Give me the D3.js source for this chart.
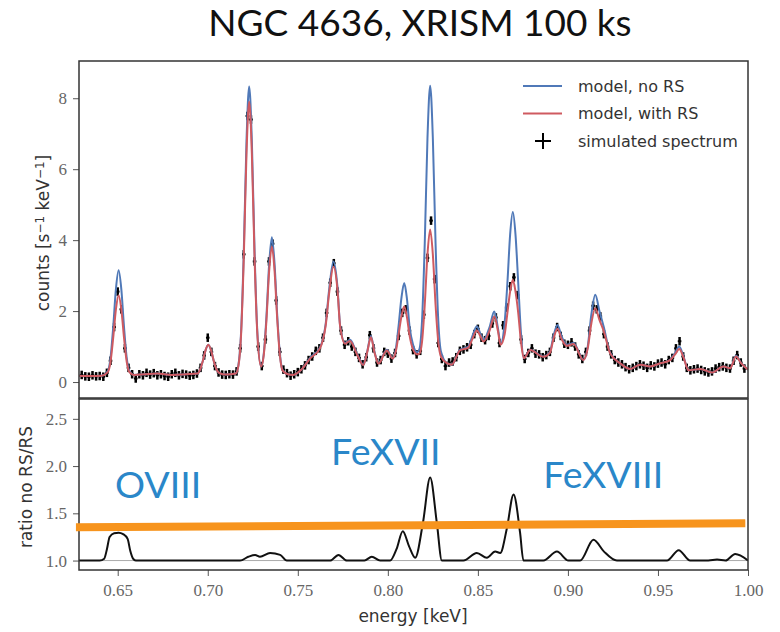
<!DOCTYPE html>
<html>
<head>
<meta charset="utf-8">
<script src="https://cdn.jsdelivr.net/npm/d3@7"></script>
<style>
  body { margin: 0; background: #fff; }
</style>
</head>
<body>
<div id="chart"></div>
<script>
// model spectra
const modelEnergy = [0.6285,0.635,0.641,0.6445,0.646,0.6475,0.649,0.6505,0.652,0.6535,0.655,0.6565,0.659,0.665,0.672,0.680,0.688,
  0.6943,0.6958,0.6973,0.6988,0.7003,0.7018,0.7033,0.7048,0.7063,0.710,0.7155,0.717,0.7185,0.720,0.7215,0.723,0.7245,0.726,0.7275,
  0.7296,0.7311,0.7326,0.7341,0.7356,0.7371,0.7386,0.7401,0.7416,0.7445,0.7474,0.752,0.7568,0.7623,0.7655,0.7675,0.7698,0.772,
  0.7735,0.7763,0.779,0.7827,0.7864,0.7885,0.7906,0.7926,0.7948,0.7994,0.8027,0.8045,0.806,0.8075,0.8091,0.8106,0.8121,0.814,
  0.8163,0.8175,0.819,0.8205,0.822,0.8235,0.825,0.8265,0.828,0.8295,0.8328,0.8355,0.840,0.8447,0.847,0.8494,0.8515,0.8531,0.8565,
  0.8591,0.8612,0.8626,0.8649,0.8664,0.8679,0.8694,0.8709,0.8724,0.8739,0.8755,0.879,0.8864,0.890,0.892,0.8942,0.8964,0.8994,
  0.9031,0.9086,0.911,0.913,0.9152,0.9175,0.9198,0.9235,0.929,0.9346,0.9401,0.9457,0.9513,0.9568,0.9595,0.9618,0.964,0.967,
  0.9735,0.980,0.9864,0.9901,0.9933,0.996,1.0];
const modelNoRS = [0.18,0.17,0.18,0.31,0.68,1.55,2.62,3.15,2.62,1.55,0.68,0.31,0.20,0.22,0.24,0.20,0.22,
  0.24,0.36,0.60,0.90,1.05,0.90,0.60,0.36,0.26,0.21,0.24,0.47,1.40,3.67,6.77,8.33,6.77,3.67,1.45,
  0.44,0.80,1.86,3.33,4.08,3.33,1.86,0.77,0.33,0.22,0.20,0.35,0.68,0.97,1.65,2.65,3.40,2.70,
  1.60,1.10,1.19,0.82,0.49,0.85,1.30,0.85,0.53,0.91,0.67,0.95,1.60,2.35,2.79,2.35,1.55,1.05,
  0.84,0.92,1.74,3.91,6.86,8.35,6.86,3.91,1.74,0.86,0.53,0.49,0.91,1.00,1.30,1.57,1.35,1.19,1.55,
  1.99,1.50,1.08,1.70,2.80,4.15,4.79,4.15,2.80,1.40,0.67,0.91,0.72,0.85,1.30,1.61,1.30,1.05,
  1.10,0.63,1.00,1.90,2.46,2.00,1.57,0.82,0.53,0.37,0.49,0.44,0.53,0.63,0.82,1.00,0.75,0.33,
  0.37,0.27,0.44,0.39,0.74,0.55,0.35];
const modelWithRS = [0.18,0.17,0.18,0.28,0.57,1.25,2.05,2.45,2.05,1.25,0.57,0.28,0.20,0.22,0.24,0.20,0.22,
  0.24,0.36,0.60,0.90,1.05,0.90,0.60,0.36,0.26,0.21,0.24,0.45,1.33,3.49,6.42,7.90,6.42,3.49,1.38,
  0.44,0.76,1.75,3.13,3.82,3.13,1.75,0.73,0.32,0.22,0.20,0.35,0.66,0.95,1.60,2.55,3.25,2.62,
  1.57,1.08,1.16,0.80,0.48,0.83,1.26,0.83,0.52,0.89,0.66,0.88,1.35,1.83,2.13,1.83,1.30,0.92,
  0.78,0.80,1.14,2.18,3.59,4.30,3.59,2.18,1.14,0.72,0.53,0.49,0.89,0.97,1.22,1.45,1.28,1.14,1.45,
  1.85,1.42,1.05,1.35,1.95,2.55,2.88,2.55,1.95,1.15,0.67,0.90,0.71,0.82,1.22,1.50,1.22,1.02,
  1.07,0.62,0.95,1.65,2.08,1.75,1.45,0.80,0.53,0.37,0.49,0.44,0.53,0.62,0.78,0.93,0.72,0.33,
  0.37,0.27,0.44,0.39,0.72,0.54,0.35];

// simulated spectrum: bins of 0.002 keV starting at 0.630 keV
const simStart = 0.630;
const simBin = 0.002;
const simCounts = [
  0.20,0.16,0.15,0.19,0.16, 0.17,0.15,0.26,0.60,1.55, 2.55,2.05,0.95,0.40,0.22, 0.10,0.22,0.19,0.26,0.21,
  0.25,0.19,0.22,0.17,0.15, 0.22,0.26,0.19,0.23,0.21, 0.18,0.20,0.24,0.40,0.75, 1.25,0.85,0.45,0.27,0.21,
  0.20,0.22,0.21,0.30,0.95, 3.6,7.5,7.4,3.4,1.0, 0.45,1.2,3.4,3.9,2.3, 0.85,0.35,0.25,0.18,0.22,
  0.28,0.36,0.47,0.62,0.72, 0.88,0.95,1.25,1.95,2.8, 3.35,2.55,1.45,1.05,1.15, 1.0,0.85,0.68,0.50,0.70,
  1.32,0.95,0.55,0.62,0.85, 0.80,0.66,0.82,1.30,1.95, 2.05,1.45,0.90,0.78,0.88, 1.9,3.5,4.55,2.9,1.1,
  0.65,0.45,0.55,0.58,0.70, 0.88,0.92,0.98,1.05,1.35, 1.50,1.25,1.18,1.30,1.65, 1.82,1.10,1.6,2.1,2.7,
  2.95,2.45,1.2,0.65,0.82, 0.95,0.80,0.78,0.70,0.76, 0.85,1.25,1.55,1.3,1.08, 1.05,1.12,1.0,0.78,0.65,
  0.85,1.45,2.15,2.05,1.85, 1.35,1.0,0.78,0.62,0.55, 0.50,0.42,0.36,0.40,0.45, 0.50,0.46,0.40,0.47,0.44,
  0.52,0.55,0.50,0.62,0.68, 0.95,1.15,0.72,0.40,0.33, 0.36,0.38,0.34,0.30,0.27, 0.30,0.38,0.42,0.44,0.40,
  0.38,0.60,0.76,0.55,0.38];
const simErr = 0.12;

// ratio no RS / RS
const ratioEnergy = [0.6285,0.640,0.6425,0.644,0.6455,0.648,0.6505,0.653,0.6555,0.657,0.6585,0.660,0.718,0.7225,0.7263,0.729,
  0.7346,0.7402,0.7439,0.768,0.7726,0.7772,0.787,0.7911,0.7957,0.8013,0.8048,0.8083,0.8118,0.8152,0.8195,0.8235,0.8272,0.830,
  0.842,0.8494,0.855,0.8596,0.8624,0.8662,0.8698,0.8734,0.8753,0.8864,0.8939,0.9003,0.9068,0.9142,0.9198,0.9272,0.955,0.9615,
  0.9679,0.978,0.9828,0.9875,0.9929,1.0];
const ratioValues = [1.0,1.0,1.02,1.12,1.25,1.29,1.295,1.28,1.23,1.10,1.02,1.0,1.0,1.04,1.06,1.04,
  1.08,1.06,1.0,1.0,1.06,1.0,1.0,1.04,1.0,1.0,1.12,1.31,1.15,1.03,1.4,1.88,1.4,1.0,
  1.0,1.08,1.03,1.095,1.08,1.35,1.70,1.3,1.0,1.0,1.095,1.0,1.0,1.22,1.10,1.0,1.0,1.11,
  1.0,1.0,1.01,1.0,1.07,1.0];

// ticks and labels
const xTicks = [0.65, 0.70, 0.75, 0.80, 0.85, 0.90, 0.95, 1.00];
const yTopTicks = [0, 2, 4, 6, 8];
const yBotTicks = [1.0, 1.5, 2.0, 2.5];
const legendLabels = ['model, no RS', 'model, with RS', 'simulated spectrum'];
const ionLabels = ['OVIII', 'FeXVII', 'FeXVIII'];
const ionEnergy = [0.6485, 0.7685, 0.8863];
const ionRatio = [1.661, 2.01, 1.767];
// hand-drawn orange bar (energy, ratio) at both ends
const barEnergy = [0.6268, 0.9985];
const barRatio = [1.352, 1.394];

const colBlue = '#5079b8';
const colRed = '#cf5a60';

const svg = d3.select('#chart')
  .append('svg')
  .attr('width', 780)
  .attr('height', 632)
  .style('font-family', 'Lato, sans-serif');

// scales
const x = d3.scaleLinear().domain([0.6285, 1.0]).range([79, 748]);
const yTop = d3.scaleLinear().domain([-0.45, 9.05]).range([398, 61]);
const yBot = d3.scaleLinear().domain([0.9, 2.71]).range([570, 399]);

// title
svg.append('text')
  .attr('x', 420).attr('y', 36)
  .attr('text-anchor', 'middle')
  .style('font-size', '37px')
  .attr('fill', '#111')
  .text('NGC 4636, XRISM 100 ks');

// clip paths
const defs = svg.append('defs');
defs.append('clipPath').attr('id', 'clipTop').append('rect')
  .attr('x', 79).attr('y', 61).attr('width', 669).attr('height', 337);
defs.append('clipPath').attr('id', 'clipBot').append('rect')
  .attr('x', 79).attr('y', 399).attr('width', 669).attr('height', 171);

// top panel
const topPanel = svg.append('g').attr('clip-path', 'url(#clipTop)');

const sim = simCounts.map((v, i) => ({e: simStart + i * simBin, v}));
topPanel.selectAll('.simh').data(sim).enter().append('line')
  .attr('x1', d => x(d.e - simBin / 2)).attr('x2', d => x(d.e + simBin / 2))
  .attr('y1', d => yTop(d.v)).attr('y2', d => yTop(d.v))
  .attr('stroke', '#000').attr('stroke-width', 2);
topPanel.selectAll('.simv').data(sim).enter().append('line')
  .attr('x1', d => x(d.e)).attr('x2', d => x(d.e))
  .attr('y1', d => yTop(d.v - simErr)).attr('y2', d => yTop(d.v + simErr))
  .attr('stroke', '#000').attr('stroke-width', 2.5);

const model = modelEnergy.map((e, i) => ({e, a: modelNoRS[i], b: modelWithRS[i]}));
const lineA = d3.line().x(d => x(d.e)).y(d => yTop(d.a)).curve(d3.curveMonotoneX);
const lineB = d3.line().x(d => x(d.e)).y(d => yTop(d.b)).curve(d3.curveMonotoneX);
topPanel.append('path').datum(model).attr('d', lineA)
  .attr('fill', 'none').attr('stroke', colBlue).attr('stroke-width', 2);
topPanel.append('path').datum(model).attr('d', lineB)
  .attr('fill', 'none').attr('stroke', colRed).attr('stroke-width', 2);

// bottom panel
const botPanel = svg.append('g').attr('clip-path', 'url(#clipBot)');
botPanel.append('line')
  .attr('x1', 79).attr('x2', 748)
  .attr('y1', yBot(1)).attr('y2', yBot(1))
  .attr('stroke', '#aaa').attr('stroke-width', 1);
const ratio = ratioEnergy.map((e, i) => ({e, r: ratioValues[i]}));
botPanel.append('path').datum(ratio)
  .attr('d', d3.line().x(d => x(d.e)).y(d => yBot(d.r)).curve(d3.curveMonotoneX))
  .attr('fill', 'none').attr('stroke', '#111').attr('stroke-width', 2);

// axes
const tickFont = g => g.selectAll('text')
  .style('font-family', '"Liberation Serif", serif')
  .style('font-size', '17px')
  .attr('fill', '#666');

const yTopAxis = svg.append('g').attr('transform', 'translate(79,0)')
  .call(d3.axisLeft(yTop).tickValues(yTopTicks).tickSize(6).tickPadding(6).tickFormat(d3.format('d')));
const yBotAxis = svg.append('g').attr('transform', 'translate(79,0)')
  .call(d3.axisLeft(yBot).tickValues(yBotTicks).tickSize(6).tickPadding(6).tickFormat(d3.format('.1f')));
const xAxis = svg.append('g').attr('transform', 'translate(0,570)')
  .call(d3.axisBottom(x).tickValues(xTicks).tickSize(6).tickPadding(8).tickFormat(d3.format('.2f')));
[yTopAxis, yBotAxis, xAxis].forEach(g => {
  g.select('.domain').remove();
  g.selectAll('line').attr('stroke', '#555');
  tickFont(g);
});

// frames
svg.append('rect').attr('x', 79).attr('y', 61).attr('width', 669).attr('height', 337)
  .attr('fill', 'none').attr('stroke', '#333').attr('stroke-width', 1.5);
svg.append('rect').attr('x', 79).attr('y', 399).attr('width', 669).attr('height', 171)
  .attr('fill', 'none').attr('stroke', '#333').attr('stroke-width', 1.5);

// axis labels
const yl = svg.append('text')
  .attr('transform', 'translate(49,233) rotate(-90)')
  .attr('text-anchor', 'middle')
  .style('font-family', '"DejaVu Sans", sans-serif')
  .style('font-size', '17px')
  .attr('fill', '#333');
yl.append('tspan').text('counts [s');
yl.append('tspan').attr('baseline-shift', '40%').style('font-size', '12px').text('−1');
yl.append('tspan').text(' keV');
yl.append('tspan').attr('baseline-shift', '40%').style('font-size', '12px').text('−1');
yl.append('tspan').text(']');

svg.append('text')
  .attr('transform', 'translate(32,487) rotate(-90)')
  .attr('text-anchor', 'middle')
  .style('font-family', '"DejaVu Sans", sans-serif')
  .style('font-size', '17px')
  .attr('fill', '#333')
  .text('ratio no RS/RS');

svg.append('text')
  .attr('x', 413).attr('y', 622)
  .attr('text-anchor', 'middle')
  .style('font-family', '"DejaVu Sans", sans-serif')
  .style('font-size', '17px')
  .attr('fill', '#333')
  .text('energy [keV]');

// legend
const legend = svg.append('g').style('font-family', '"DejaVu Sans", sans-serif');
legendLabels.forEach((lab, i) => {
  const ly = 86 + i * 27.5;
  if (i < 2) {
    legend.append('line').attr('x1', 523).attr('x2', 562).attr('y1', ly).attr('y2', ly)
      .attr('stroke', i === 0 ? colBlue : colRed).attr('stroke-width', 2);
  } else {
    legend.append('line').attr('x1', 535).attr('x2', 551).attr('y1', ly).attr('y2', ly)
      .attr('stroke', '#000').attr('stroke-width', 2);
    legend.append('line').attr('x1', 543).attr('x2', 543).attr('y1', ly - 8).attr('y2', ly + 8)
      .attr('stroke', '#000').attr('stroke-width', 2);
  }
  legend.append('text').attr('x', 578).attr('y', ly + 5.5)
    .style('font-size', '16px').attr('fill', '#333').text(lab);
});

// annotations
svg.append('line')
  .attr('x1', x(barEnergy[0])).attr('y1', yBot(barRatio[0]))
  .attr('x2', x(barEnergy[1])).attr('y2', yBot(barRatio[1]))
  .attr('stroke', '#f7941d').attr('stroke-width', 8);

ionLabels.forEach((lab, i) => {
  svg.append('text')
    .attr('x', x(ionEnergy[i])).attr('y', yBot(ionRatio[i]))
    .style('font-size', '37.5px')
    .attr('fill', '#2a87c9')
    .text(lab);
});
</script>
</body>
</html>
